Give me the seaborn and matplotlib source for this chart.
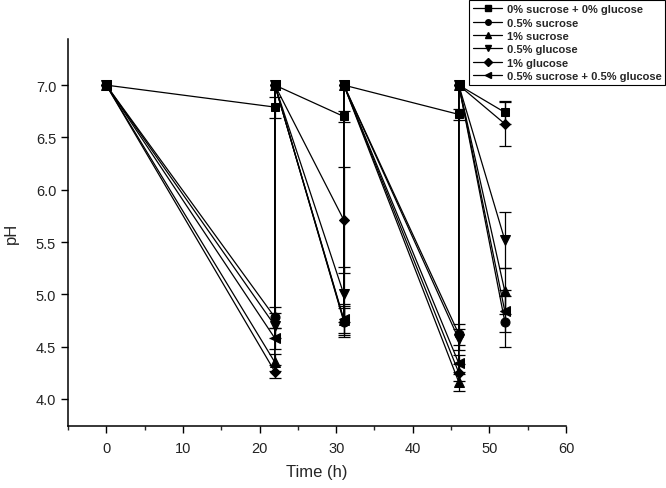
#!/usr/bin/env python3
"""pH over time for sugar treatments, with resets to pH 7 at 22, 31 and 46 h."""
import matplotlib
matplotlib.use('Agg')
import matplotlib.pyplot as plt
import numpy as np
import pandas as pd
import seaborn as sns
from matplotlib.lines import Line2D
from matplotlib.ticker import MultipleLocator

# sampling times (h); repeated times are the reset back to pH 7
times = [0, 22, 22, 31, 31, 46, 46, 52]

treatments = ['0% sucrose + 0% glucose', '0.5% sucrose', '1% sucrose',
              '0.5% glucose', '1% glucose', '0.5% sucrose + 0.5% glucose']

ph_ctrl = [7.0, 6.79, 7.0, 6.70, 7.0, 6.72, 7.0, 6.74]
ph_suc05 = [7.0, 4.78, 7.0, 4.74, 7.0, 4.62, 7.0, 4.74]
ph_suc1 = [7.0, 4.35, 7.0, 4.75, 7.0, 4.16, 7.0, 5.03]
ph_glu05 = [7.0, 4.70, 7.0, 5.00, 7.0, 4.57, 7.0, 5.52]
ph_glu1 = [7.0, 4.26, 7.0, 5.71, 7.0, 4.25, 7.0, 6.63]
ph_mix = [7.0, 4.58, 7.0, 4.76, 7.0, 4.34, 7.0, 4.84]

err_ctrl = [0, 0.10, 0, 0.05, 0, 0.05, 0, 0.11]
err_suc05 = [0, 0.10, 0, 0.15, 0, 0.10, 0, 0.24]
err_suc1 = [0, 0.08, 0, 0.12, 0, 0.08, 0, 0.22]
err_glu05 = [0, 0.12, 0, 0.26, 0, 0.10, 0, 0.27]
err_glu1 = [0, 0.06, 0, 0.51, 0, 0.08, 0, 0.21]
err_mix = [0, 0.10, 0, 0.15, 0, 0.08, 0, 0.20]

ph_all = [ph_ctrl, ph_suc05, ph_suc1, ph_glu05, ph_glu1, ph_mix]
err_all = [err_ctrl, err_suc05, err_suc1, err_glu05, err_glu1, err_mix]
marker_list = ['s', 'o', '^', 'v', 'D', '<']
marker_sizes = [6, 6.5, 7, 7, 5.5, 7]

# long table for seaborn
rows = []
for name, ph, err in zip(treatments, ph_all, err_all):
    for i, (t, v, e) in enumerate(zip(times, ph, err)):
        rows.append({'order': i, 'Time (h)': t, 'pH': v, 'err': e, 'treatment': name})
df = pd.DataFrame(rows)

sns.set_style('ticks')
plt.rcParams['font.family'] = ['Liberation Sans', 'DejaVu Sans']

fig = plt.figure(figsize=(6.66, 4.89), dpi=100)
ax = fig.add_axes([0.102, 0.127, 0.748, 0.791])

sns.lineplot(
    data=df, x='Time (h)', y='pH', hue='treatment', style='treatment',
    hue_order=treatments, style_order=treatments,
    palette=['black'] * len(treatments), markers=marker_list, dashes=False,
    sort=False, estimator=None, linewidth=0.9, markersize=7,
    markeredgecolor='black', ax=ax, legend=False,
)
# individual marker sizes
for line, ms in zip(ax.get_lines(), marker_sizes):
    line.set_markersize(ms)

# error bars
for name in treatments:
    sub = df[(df['treatment'] == name) & (df['err'] > 0)]
    ax.errorbar(sub['Time (h)'], sub['pH'], yerr=sub['err'], fmt='none',
                ecolor='black', elinewidth=0.9, capsize=4, capthick=0.9)

ax.set_xlim(-5, 60)
ax.set_ylim(3.742, 7.44)
ax.xaxis.set_major_locator(MultipleLocator(10))
ax.xaxis.set_minor_locator(MultipleLocator(5))
ax.yaxis.set_major_locator(MultipleLocator(0.5))
ax.yaxis.set_major_formatter(matplotlib.ticker.FormatStrFormatter('%.1f'))
ax.tick_params(axis='both', which='major', length=5, width=1, labelsize=10.5,
               color='black', labelcolor='#222222')
ax.tick_params(axis='x', which='minor', length=3, width=1)
ax.tick_params(axis='x', pad=6)
sns.despine(ax=ax)
for s in ['left', 'bottom']:
    ax.spines[s].set_linewidth(1.1)
    ax.spines[s].set_color('black')
ax.set_xlabel('Time (h)', fontsize=12, labelpad=6)
ax.set_ylabel('pH', fontsize=12, labelpad=12)

handles = [Line2D([0], [0], color='black', lw=0.9, marker=m, markersize=4)
           for m in marker_list]
leg = fig.legend(handles, treatments, loc='upper right', bbox_to_anchor=(0.999, 0.997),
                 frameon=True, fancybox=False, edgecolor='black', framealpha=1,
                 prop={'size': 8, 'weight': 'bold'}, handlelength=2.6,
                 handletextpad=0.4, labelspacing=0.3, borderpad=0.35,
                 borderaxespad=0)
leg.get_frame().set_linewidth(0.8)

fig.savefig('out.png', dpi=100)
